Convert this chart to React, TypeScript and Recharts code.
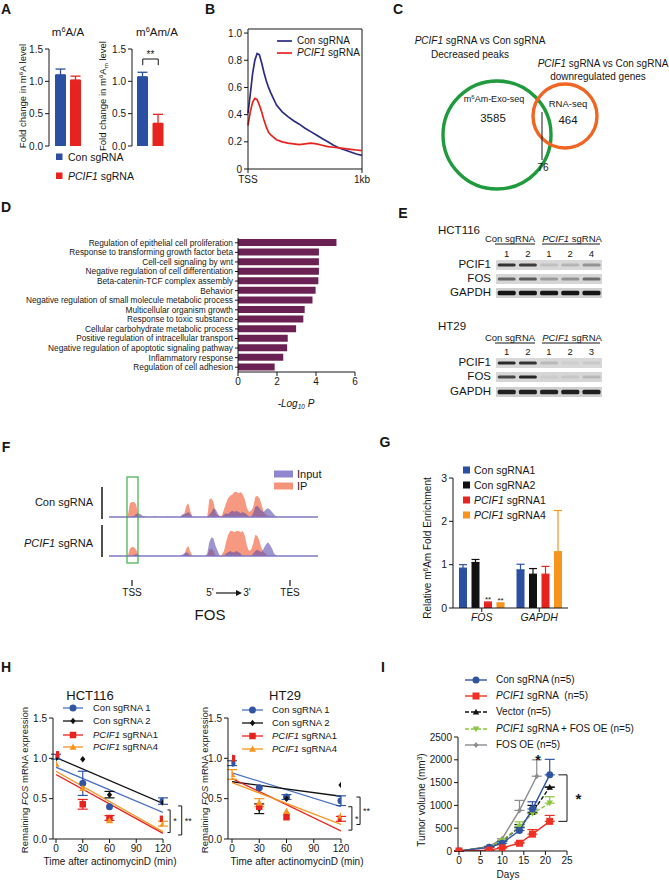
import React from 'react';
import {
  BarChart, Bar, XAxis, YAxis, ErrorBar, Cell, ReferenceLine, LineChart, Line,
  AreaChart, Area, ScatterChart, Scatter, ComposedChart, ReferenceArea, ReferenceDot, LabelList,
} from 'recharts';

const FONT = 'Arial, "Liberation Sans", Helvetica, sans-serif';
const INK = '#161616';
const BLUE = '#2b4fa2';
const RED = '#e8231f';
const ORANGE = '#f7941d';
const NAVY = '#2b2b86';
const PURPLE = '#6b2153';

/* ---------------- Panel A ---------------- */
const A_GROUPS = ['Con sgRNA', 'PCIF1 sgRNA'];
const A_COLORS = [BLUE, RED];
const A_M6A = [1.1, 1.02];
const A_M6A_ERR = [0.09, 0.06];
const A_M6AM = [1.07, 0.35];
const A_M6AM_ERR = [0.07, 0.14];
const A_TICKS = [0, 0.5, 1, 1.5];

/* ---------------- Panel B ---------------- */
const B_POS = [0, 0.02, 0.04, 0.06, 0.08, 0.10, 0.12, 0.14, 0.16, 0.18, 0.20, 0.25, 0.30, 0.35, 0.40, 0.45, 0.50, 0.55, 0.60, 0.65, 0.70, 0.75, 0.80, 0.85, 0.90, 0.95, 1.00];
const B_CON = [0.41, 0.55, 0.70, 0.80, 0.85, 0.84, 0.78, 0.71, 0.65, 0.60, 0.56, 0.47, 0.42, 0.385, 0.355, 0.33, 0.30, 0.275, 0.25, 0.225, 0.20, 0.175, 0.155, 0.14, 0.125, 0.11, 0.10];
const B_KD = [0.32, 0.42, 0.49, 0.52, 0.51, 0.47, 0.42, 0.36, 0.31, 0.27, 0.25, 0.215, 0.20, 0.19, 0.185, 0.18, 0.185, 0.19, 0.185, 0.175, 0.165, 0.16, 0.155, 0.15, 0.145, 0.14, 0.135];
const B_XTICKS = [0, 1];
const B_XLABELS = ['TSS', '1kb'];
const B_YTICKS = [0, 0.2, 0.4, 0.6, 0.8, 1.0];

/* ---------------- Panel C ---------------- */
const C_SETS = ['m6Am-Exo-seq', 'RNA-seq'];
const C_ONLY = [3585, 464];
const C_OVERLAP = 76;
const C_LAYOUT = [
  { cx: 107, cy: 135, r: 54, color: '#1f9a3c' },
  { cx: 175, cy: 116, r: 32, color: '#f06522' },
];

/* ---------------- Panel D ---------------- */
const D_TERMS = [
  'Regulation of epithelial cell proliferation',
  'Response to transforming growth factor beta',
  'Cell-cell signaling by wnt',
  'Negative regulation of cell differentiation',
  'Beta-catenin-TCF complex assembly',
  'Behavior',
  'Negative regulation of small molecule metabolic process',
  'Multicellular organism growth',
  'Response to toxic substance',
  'Cellular carbohydrate metabolic process',
  'Positive regulation of intracellular transport',
  'Negative regulation of apoptotic signaling pathway',
  'Inflammatory response',
  'Regulation of cell adhesion',
];
const D_VALUES = [5.05, 4.15, 4.15, 4.15, 4.12, 3.98, 3.82, 3.42, 3.35, 2.98, 2.55, 2.52, 2.32, 1.88];
const D_TICKS = [0, 2, 4, 6];

/* ---------------- Panel E ---------------- */
const E_ROWS = ['PCIF1', 'FOS', 'GAPDH'];
const E_HCT_LANES = ['1', '2', '1', '2', '4'];
const E_HT_LANES = ['1', '2', '1', '2', '3'];
const E_HCT_PCIF1 = [0.85, 0.8, 0.12, 0.18, 0.35];
const E_HCT_FOS = [0.6, 0.65, 0.3, 0.35, 0.55];
const E_HCT_GAPDH = [1, 1, 1, 1, 1];
const E_HT_PCIF1 = [0.9, 0.85, 0.15, 0.05, 0.08];
const E_HT_FOS = [0.75, 0.92, 0.05, 0.08, 0.15];
const E_HT_GAPDH = [0.95, 0.95, 0.95, 0.95, 0.95];

/* ---------------- Panel F ---------------- */
const F_BINS = Array.from({ length: 101 }, (_, i) => i);
const F_CON_IP = [[9, 0.05], [10, 0.55], [11, 0.6], [12, 0.6], [13, 0.5], [14, 0.05], [15, 0.04], [35, 0.05], [36, 0.12], [37, 0.45], [38, 0.55], [39, 0.2], [48, 0.7], [49, 0.75], [50, 0.6], [51, 0.15], [52, 0.05], [53, 0.05], [54, 0.05], [55, 0.3], [56, 0.55], [57, 0.75], [58, 0.85], [59, 0.9], [60, 1.0], [61, 1.0], [62, 0.95], [63, 1.0], [64, 0.9], [65, 0.7], [66, 0.35], [67, 0.2], [68, 0.25], [69, 0.4], [70, 0.8], [71, 0.85], [72, 0.75], [73, 0.5], [74, 0.2], [75, 0.1], [76, 0.05], [77, 0.02]];
const F_CON_IN = [[12, 0.05], [13, 0.12], [14, 0.15], [15, 0.12], [16, 0.05], [17, 0.03], [22, 0.03], [28, 0.02], [35, 0.1], [36, 0.12], [37, 0.15], [38, 0.2], [39, 0.1], [48, 0.1], [49, 0.2], [50, 0.35], [51, 0.3], [52, 0.15], [55, 0.1], [56, 0.15], [57, 0.12], [58, 0.2], [59, 0.25], [60, 0.2], [61, 0.25], [62, 0.2], [63, 0.15], [64, 0.2], [65, 0.15], [66, 0.1], [69, 0.15], [70, 0.4], [71, 0.45], [72, 0.35], [73, 0.25], [74, 0.2], [75, 0.3], [76, 0.35], [77, 0.3], [78, 0.2], [79, 0.1], [80, 0.02]];
const F_KD_IP = [[10, 0.3], [11, 0.36], [12, 0.35], [13, 0.25], [14, 0.05], [36, 0.05], [37, 0.3], [38, 0.4], [39, 0.15], [48, 0.25], [49, 0.3], [50, 0.2], [54, 0.05], [55, 0.2], [56, 0.55], [57, 0.85], [58, 1.0], [59, 1.0], [60, 0.95], [61, 1.0], [62, 1.0], [63, 0.95], [64, 1.0], [65, 0.8], [66, 0.4], [67, 0.2], [68, 0.25], [69, 0.5], [70, 0.85], [71, 0.8], [72, 0.6], [73, 0.3], [74, 0.15], [75, 0.1]];
const F_KD_IN = [[12, 0.05], [13, 0.08], [14, 0.05], [35, 0.05], [36, 0.1], [37, 0.15], [38, 0.1], [47, 0.1], [48, 0.55], [49, 0.75], [50, 0.7], [51, 0.4], [52, 0.2], [56, 0.1], [57, 0.15], [58, 0.2], [59, 0.15], [60, 0.15], [61, 0.2], [62, 0.15], [63, 0.1], [69, 0.1], [70, 0.2], [71, 0.25], [72, 0.2], [73, 0.15], [74, 0.3], [75, 0.45], [76, 0.55], [77, 0.45], [78, 0.3], [79, 0.1], [80, 0.02]];
const F_EXONS = [[10, 13, 'utr'], [13, 16.7, 'cds'], [33.5, 39.2, 'cds'], [49.3, 51.7, 'cds'], [54, 68.4, 'cds'], [68.4, 86.6, 'utr']];
const F_INTRON = [13, 86];
const F_INTRON_TICKS = [18.7, 24.4, 29.7, 42, 46];

/* ---------------- Panel G ---------------- */
const G_TARGETS = ['FOS', 'GAPDH'];
const G_CON1 = [0.92, 0.88];
const G_CON1_ERR = [0.08, 0.13];
const G_CON2 = [1.05, 0.78];
const G_CON2_ERR = [0.07, 0.13];
const G_KD1 = [0.12, 0.78];
const G_KD1_ERR = [0.02, 0.18];
const G_KD4 = [0.1, 1.3];
const G_KD4_ERR = [0.02, 0.95];
const G_KD1_SIG = ['**', ''];
const G_KD4_SIG = ['**', ''];
const G_TICKS = [0, 1, 2, 3];

/* ---------------- Panel H ---------------- */
const H_TIMES = [0, 30, 60, 120];
const H_TIME_TICKS = [0, 30, 60, 90, 120];
const H_Y_TICKS = [0, 0.5, 1, 1.5];
const H_FIT_T = [0, 120];
const HCT_CON1 = [1.02, 0.69, 0.40, 0.47];
const HCT_CON1_ERR = [0.03, 0.15, 0, 0.04];
const HCT_CON2 = [1.0, 0.99, 0.55, 0.45];
const HCT_CON2_ERR = [0, 0, 0.04, 0];
const HCT_KD1 = [1.05, 0.43, 0.26, 0.25];
const HCT_KD1_ERR = [0, 0.06, 0.03, 0];
const HCT_KD4 = [0.93, 0.63, 0.23, 0.19];
const HCT_KD4_ERR = [0, 0, 0, 0.03];
const HCT_FIT_CON1 = [0.89, 0.33];
const HCT_FIT_CON2 = [1.01, 0.44];
const HCT_FIT_KD1 = [0.80, 0.07];
const HCT_FIT_KD4 = [0.84, 0.09];
const HT_CON1 = [0.94, 0.635, 0.52, 0.475];
const HT_CON1_ERR = [0.03, 0, 0.03, 0.06];
const HT_CON2 = [1.01, 0.375, 0.5, 0.67];
const HT_CON2_ERR = [0, 0.06, 0, 0];
const HT_KD1 = [1.0, 0.4, 0.27, 0.25];
const HT_KD1_ERR = [0, 0, 0, 0.03];
const HT_KD4 = [0.8, 0.45, 0.345, 0.29];
const HT_KD4_ERR = [0.06, 0.05, 0, 0];
const HT_FIT_CON1 = [0.82, 0.40];
const HT_FIT_CON2 = [0.71, 0.53];
const HT_FIT_KD1 = [0.75, 0.10];
const HT_FIT_KD4 = [0.70, 0.18];
const H_NAMES = ['Con sgRNA 1', 'Con sgRNA 2', 'PCIF1 sgRNA1', 'PCIF1 sgRNA4'];

/* ---------------- Panel I ---------------- */
const I_DAYS_A = [0, 7, 10, 14, 17, 21];
const I_DAYS_B = [0, 7, 10, 14, 18];
const I_CON = [0, 80, 170, 450, 920, 1670];
const I_CON_ERR = [0, 20, 40, 60, 160, 340];
const I_KD = [0, 20, 70, 170, 370, 650];
const I_KD_ERR = [0, 0, 0, 20, 100, 130];
const I_VEC = [0, 90, 220, 520, 850, 1400];
const I_VEC_ERR = [0, 0, 0, 60, 150, 0];
const I_KDFOS = [0, 90, 230, 540, 820, 1050];
const I_KDFOS_ERR = [0, 0, 0, 100, 0, 140];
const I_FOS = [0, 100, 270, 890, 1640];
const I_FOS_ERR = [0, 0, 0, 220, 360];
const I_XTICKS = [0, 5, 10, 15, 20, 25];
const I_YTICKS = [0, 500, 1000, 1500, 2000, 2500];

/* ---------------- helpers ---------------- */
const tk = (size = 10) => ({ fontSize: size, fill: INK });
const AX = { stroke: INK, strokeWidth: 1 };

function Txt({ x, y, size = 10, anchor = 'middle', bold = false, italic = false, rotate = false, color = INK, children }) {
  const tx = rotate ? '-50%' : anchor === 'middle' ? '-50%' : anchor === 'end' ? '-100%' : '0%';
  return (
    <div style={{
      position: 'absolute', left: x, top: y, fontSize: size, lineHeight: 1, whiteSpace: 'nowrap',
      fontWeight: bold ? 700 : 400, fontStyle: italic ? 'italic' : 'normal', color,
      transform: `translate(${tx},-50%)${rotate ? ' rotate(-90deg)' : ''}`,
    }}>{children}</div>
  );
}
const Sup = ({ children }) => <span style={{ fontSize: '0.65em', position: 'relative', top: '-0.5em' }}>{children}</span>;
const Sub = ({ children }) => <span style={{ fontSize: '0.65em', position: 'relative', top: '0.3em' }}>{children}</span>;
const I = ({ children }) => <i>{children}</i>;

function Mark({ kind, x, y, s, color }) {
  const h = s / 2;
  if (kind === 'circle') return <circle cx={x} cy={y} r={h} fill={color} />;
  if (kind === 'square') return <rect x={x - h} y={y - h} width={s} height={s} fill={color} />;
  if (kind === 'tri') return <polygon points={`${x},${y - h} ${x + h},${y + h * 0.8} ${x - h},${y + h * 0.8}`} fill={color} />;
  if (kind === 'triDown') return <polygon points={`${x - h},${y - h * 0.8} ${x + h},${y - h * 0.8} ${x},${y + h}`} fill={color} />;
  return <polygon points={`${x},${y - h} ${x + h * 0.8},${y} ${x},${y + h} ${x - h * 0.8},${y}`} fill={color} />;
}

function bracketLines(key, xArm, xBar, yTop, yBot, label) {
  const st = { stroke: INK, strokeWidth: 1, ifOverflow: 'visible' };
  return [
    <ReferenceLine key={key + 'a'} segment={[{ x: xArm, y: yTop }, { x: xBar, y: yTop }]} {...st} />,
    <ReferenceLine key={key + 'b'} segment={[{ x: xArm, y: yBot }, { x: xBar, y: yBot }]} {...st} />,
    <ReferenceLine key={key + 'c'} segment={[{ x: xBar, y: yTop }, { x: xBar, y: yBot }]} {...st}
      label={{ value: label, position: 'right', fontSize: 9, fill: INK, offset: 3 }} />,
  ];
}

/* ---------------- Panels ---------------- */
function RatioBars({ left, yW, width, right, pad, vals, errs, sig }) {
  const data = A_GROUPS.map((g, i) => ({
    group: g, v: vals[i],
    e0: i === 0 ? [0, errs[i]] : undefined,
    e1: i === 1 ? [0, errs[i]] : undefined,
  }));
  return (
    <div style={{ position: 'absolute', left, top: 0 }}>
      <BarChart width={width} height={170} data={data} margin={{ top: 49, right, bottom: 24, left: 0 }}>
        <XAxis dataKey="group" tick={false} tickLine={false} height={0} axisLine={AX} padding={{ left: pad, right: pad }} />
        <YAxis domain={[0, 1.5]} ticks={A_TICKS} tickFormatter={(v) => v.toFixed(1)} width={yW} tickSize={4} tick={tk(10)} axisLine={AX} tickLine={AX} />
        <Bar dataKey="v" barSize={11} isAnimationActive={false}>
          {data.map((d, i) => <Cell key={i} fill={A_COLORS[i]} />)}
          <ErrorBar dataKey="e0" width={5} stroke={A_COLORS[0]} strokeWidth={1.3} direction="y" />
          <ErrorBar dataKey="e1" width={5} stroke={A_COLORS[1]} strokeWidth={1.3} direction="y" />
        </Bar>
        {sig ? [
          <ReferenceLine key="s1" segment={[{ x: A_GROUPS[0], y: 1.345 }, { x: A_GROUPS[1], y: 1.345 }]} stroke={INK} ifOverflow="visible"
            label={{ value: sig, position: 'top', fontSize: 10, fill: INK, offset: 1 }} />,
          <ReferenceLine key="s2" segment={[{ x: A_GROUPS[0], y: 1.345 }, { x: A_GROUPS[0], y: 1.25 }]} stroke={INK} ifOverflow="visible" />,
          <ReferenceLine key="s3" segment={[{ x: A_GROUPS[1], y: 1.345 }, { x: A_GROUPS[1], y: 1.25 }]} stroke={INK} ifOverflow="visible" />,
        ] : null}
      </BarChart>
    </div>
  );
}

function PanelA() {
  return (
    <>
      <RatioBars left={0} yW={49} width={100} right={13} pad={4} vals={A_M6A} errs={A_M6A_ERR} />
      <RatioBars left={90} yW={42} width={100} right={21} pad={3} vals={A_M6AM} errs={A_M6AM_ERR} sig="**" />
      <Txt x={68} y={33} size={11.5}>m<Sup>6</Sup>A/A</Txt>
      <Txt x={157} y={33} size={11.5}>m<Sup>6</Sup>Am/A</Txt>
      <Txt x={23} y={96} size={9.5} rotate>Fold change in m<Sup>6</Sup>A level</Txt>
      <Txt x={103} y={96} size={9.5} rotate>Fold change in m<Sup>6</Sup>A<Sub>m</Sub> level</Txt>
      <Txt x={68} y={157} size={10.5} anchor="start">{A_GROUPS[0]}</Txt>
      <Txt x={68} y={176} size={10.5} anchor="start"><I>PCIF1</I> sgRNA</Txt>
    </>
  );
}

function PanelB() {
  const data = B_POS.map((p, i) => ({ p, con: B_CON[i], kd: B_KD[i] }));
  return (
    <>
      <div style={{ position: 'absolute', left: 190, top: 0 }}>
        <LineChart width={180} height={195} data={data} margin={{ top: 29, right: 8, bottom: 6, left: 0 }}>
          <XAxis type="number" dataKey="p" domain={[0, 1]} ticks={B_XTICKS} tickFormatter={(v) => B_XLABELS[B_XTICKS.indexOf(v)]}
            height={20} tickSize={4} tick={{ ...tk(10), dy: 1 }} axisLine={AX} tickLine={AX} />
          <YAxis type="number" domain={[0, 1.03]} ticks={B_YTICKS} allowDataOverflow tickFormatter={(v) => (v === 0 ? '0' : v.toFixed(1))}
            width={58} tickSize={4} tick={tk(10)} axisLine={AX} tickLine={AX} />
          <ReferenceLine y={1.03} stroke={INK} />
          <ReferenceLine x={1} stroke={INK} />
          <Line dataKey="con" stroke={NAVY} strokeWidth={1.7} dot={false} isAnimationActive={false} />
          <Line dataKey="kd" stroke={RED} strokeWidth={1.7} dot={false} isAnimationActive={false} />
        </LineChart>
      </div>
      <Txt x={297} y={41} size={10} anchor="start">Con sgRNA</Txt>
      <Txt x={297} y={53} size={10} anchor="start"><I>PCIF1</I> sgRNA</Txt>
    </>
  );
}

function PanelC() {
  const data = C_LAYOUT.map((c, i) => ({ ...c, set: C_SETS[i] }));
  return (
    <>
      <div style={{ position: 'absolute', left: 390, top: 0 }}>
        <ScatterChart width={279} height={200} margin={{ top: 0, right: 0, bottom: 0, left: 0 }}>
          <XAxis type="number" dataKey="cx" domain={[0, 279]} hide />
          <YAxis type="number" dataKey="cy" domain={[0, 200]} reversed hide />
          <Scatter data={data} isAnimationActive={false}
            shape={(p) => <circle cx={p.cx} cy={p.cy} r={p.payload.r} fill="none" stroke={p.payload.color} strokeWidth={3.4} />} />
        </ScatterChart>
      </div>
      <Txt x={480} y={41} size={10}><I>PCIF1</I> sgRNA vs Con sgRNA</Txt>
      <Txt x={470} y={55} size={10}>Decreased peaks</Txt>
      <Txt x={603} y={64} size={10}><I>PCIF1</I> sgRNA vs Con sgRNA</Txt>
      <Txt x={598} y={77} size={10}>downregulated genes</Txt>
      <Txt x={494} y={99} size={9}>m<Sup>6</Sup>Am-Exo-seq</Txt>
      <Txt x={493} y={119} size={11.5}>{C_ONLY[0]}</Txt>
      <Txt x={568} y={104} size={9.5}>{C_SETS[1]}</Txt>
      <Txt x={568} y={121} size={11.5}>{C_ONLY[1]}</Txt>
      <Txt x={543} y={168} size={10}>{C_OVERLAP}</Txt>
    </>
  );
}

const DTick = ({ x, y, payload }) => (
  <text x={x} y={y} dy="0.35em" textAnchor="end" fontSize={8.3} fill={INK}>{payload.value}</text>
);

function PanelD() {
  const data = D_TERMS.map((t, i) => ({ term: t, v: D_VALUES[i] }));
  return (
    <>
      <div style={{ position: 'absolute', left: 0, top: 200 }}>
        <BarChart layout="vertical" width={370} height={210} data={data} margin={{ top: 38, right: 15, bottom: 16, left: 0 }}>
          <XAxis type="number" domain={[0, 6]} ticks={D_TICKS} height={22} tickSize={4} tick={tk(10)} axisLine={AX} tickLine={AX} />
          <YAxis type="category" dataKey="term" width={238} interval={0} tickSize={3} tick={DTick} axisLine={AX} tickLine={AX} />
          <Bar dataKey="v" fill={PURPLE} barSize={7} isAnimationActive={false} />
        </BarChart>
      </div>
      <Txt x={296} y={404} size={10} italic>-Log<Sub>10</Sub> P</Txt>
    </>
  );
}

function BlotStrip({ left, top, lanes, values, bandH, showLanes, bg }) {
  const H = 10;
  const axisH = showLanes ? 16 : 0;
  const data = lanes.map((l, i) => ({ lane: String(i), v: values[i] }));
  const LaneTick = ({ x, payload }) => (
    <text x={x} y={axisH - 3} textAnchor="middle" fontSize={9.5} fill={INK}>{lanes[Number(payload.value)]}</text>
  );
  return (
    <div style={{ position: 'absolute', left, top: top - axisH }}>
      <div style={{ position: 'absolute', left: 0, top: axisH, width: 106, height: H, background: bg }} />
      <BarChart width={106} height={H + axisH} data={data} margin={{ top: 0, right: 0, bottom: 0, left: 0 }} barCategoryGap="8%">
        <XAxis dataKey="lane" orientation="top" height={axisH} hide={!showLanes} axisLine={false} tickLine={false}
          tick={LaneTick} interval={0} />
        <YAxis hide domain={[0, 1]} />
        <Bar dataKey="v" isAnimationActive={false}
          shape={(p) => <rect x={p.x} y={axisH + H / 2 - bandH / 2} width={p.width} height={bandH} rx={1.5} fill="#161616" fillOpacity={p.payload.v} />} />
      </BarChart>
    </div>
  );
}

function PanelE() {
  return (
    <>
      <Txt x={438} y={231} size={11.5} anchor="start">HCT116</Txt>
      <Txt x={510} y={239} size={9.5}>Con sgRNA</Txt>
      <Txt x={572} y={239} size={9.5}><I>PCIF1</I> sgRNA</Txt>
      <BlotStrip left={496} top={260} lanes={E_HCT_LANES} values={E_HCT_PCIF1} bandH={3} showLanes bg="#d8d8d8" />
      <BlotStrip left={496} top={274} lanes={E_HCT_LANES} values={E_HCT_FOS} bandH={3} bg="#d6d6d6" />
      <BlotStrip left={496} top={288} lanes={E_HCT_LANES} values={E_HCT_GAPDH} bandH={4.5} bg="#d0d0d0" />
      <Txt x={491} y={265} size={11.5} anchor="end">{E_ROWS[0]}</Txt>
      <Txt x={491} y={279} size={11.5} anchor="end">{E_ROWS[1]}</Txt>
      <Txt x={491} y={293} size={11.5} anchor="end">{E_ROWS[2]}</Txt>

      <Txt x={438} y={327} size={11.5} anchor="start">HT29</Txt>
      <Txt x={510} y={338} size={9.5}>Con sgRNA</Txt>
      <Txt x={572} y={338} size={9.5}><I>PCIF1</I> sgRNA</Txt>
      <BlotStrip left={496} top={358} lanes={E_HT_LANES} values={E_HT_PCIF1} bandH={3} showLanes bg="#d8d8d8" />
      <BlotStrip left={496} top={372} lanes={E_HT_LANES} values={E_HT_FOS} bandH={3} bg="#d6d6d6" />
      <BlotStrip left={496} top={387} lanes={E_HT_LANES} values={E_HT_GAPDH} bandH={4.5} bg="#d0d0d0" />
      <Txt x={491} y={363} size={11.5} anchor="end">{E_ROWS[0]}</Txt>
      <Txt x={491} y={377} size={11.5} anchor="end">{E_ROWS[1]}</Txt>
      <Txt x={491} y={392} size={11.5} anchor="end">{E_ROWS[2]}</Txt>
    </>
  );
}

function Track({ top, ip, inp }) {
  const mIp = new Map(ip);
  const mIn = new Map(inp);
  const data = F_BINS.map((b) => ({ pos: b, ip: mIp.get(b) ?? 0, inp: mIn.get(b) ?? 0 }));
  return (
    <div style={{ position: 'absolute', left: 109, top }}>
      <AreaChart width={209} height={29} data={data} margin={{ top: 3, right: 0, bottom: 1, left: 0 }}>
        <XAxis type="number" dataKey="pos" domain={[0, 100]} hide />
        <YAxis type="number" domain={[0, 1]} hide />
        <Area type="linear" dataKey="ip" stroke="none" fill="#f4876a" fillOpacity={0.85} isAnimationActive={false} />
        <Area type="linear" dataKey="inp" stroke="none" fill="#5b4fae" fillOpacity={0.6} isAnimationActive={false} />
        <ReferenceLine y={0} stroke="#8079c5" strokeWidth={1.3} />
      </AreaChart>
    </div>
  );
}

function PanelF() {
  return (
    <>
      <Track top={489} ip={F_CON_IP} inp={F_CON_IN} />
      <Track top={528} ip={F_KD_IP} inp={F_KD_IN} />
      <div style={{ position: 'absolute', left: 109, top: 560 }}>
        <ComposedChart width={209} height={24} data={[{ pos: 0 }, { pos: 100 }]} margin={{ top: 0, right: 0, bottom: 0, left: 0 }}>
          <XAxis type="number" dataKey="pos" domain={[0, 100]} hide />
          <YAxis type="number" domain={[-1, 1]} hide />
          <ReferenceLine segment={[{ x: F_INTRON[0], y: 0 }, { x: F_INTRON[1], y: 0 }]} stroke={NAVY} strokeWidth={1.3} />
          {F_INTRON_TICKS.map((p) => (
            <ReferenceLine key={'t' + p} segment={[{ x: p, y: -0.3 }, { x: p, y: 0.3 }]} stroke={NAVY} strokeWidth={1.5} />
          ))}
          {F_EXONS.map(([a, b, kind], i) => (
            <ReferenceArea key={'e' + i} x1={a} x2={b} y1={kind === 'cds' ? -0.46 : -0.27} y2={kind === 'cds' ? 0.46 : 0.27}
              fill={NAVY} fillOpacity={1} stroke="none" ifOverflow="visible" />
          ))}
        </ComposedChart>
      </div>
      <Txt x={297} y={474} size={11} anchor="start">Input</Txt>
      <Txt x={297} y={486} size={11} anchor="start">IP</Txt>
      <Txt x={93} y={502} size={11} anchor="end">Con sgRNA</Txt>
      <Txt x={93} y={543} size={11} anchor="end"><I>PCIF1</I> sgRNA</Txt>
      <Txt x={132} y={593} size={10}>TSS</Txt>
      <Txt x={290} y={593} size={10}>TES</Txt>
      <Txt x={210} y={593} size={10}>5'</Txt>
      <Txt x={247} y={593} size={10}>3'</Txt>
      <Txt x={210} y={614} size={15}>FOS</Txt>
    </>
  );
}

function PanelG() {
  const data = G_TARGETS.map((t, i) => ({
    t, c1: G_CON1[i], c1e: [0, G_CON1_ERR[i]], c2: G_CON2[i], c2e: [0, G_CON2_ERR[i]],
    k1: G_KD1[i], k1e: [0, G_KD1_ERR[i]], k4: G_KD4[i], k4e: [0, G_KD4_ERR[i]], k1s: G_KD1_SIG[i], k4s: G_KD4_SIG[i],
  }));
  const series = [['c1', BLUE], ['c2', '#111111'], ['k1', RED], ['k4', ORANGE]];
  return (
    <>
      <div style={{ position: 'absolute', left: 400, top: 440 }}>
        <BarChart width={269} height={200} data={data} margin={{ top: 38, right: 101, bottom: 8, left: 0 }} barGap={4.5} barCategoryGap="10%">
          <XAxis dataKey="t" height={24} tickSize={4} tick={{ ...tk(10.5), fontStyle: 'italic' }} axisLine={AX} tickLine={AX} />
          <YAxis domain={[0, 3]} ticks={G_TICKS} width={53} tickSize={4} tick={tk(10.5)} axisLine={AX} tickLine={AX} />
          {series.map(([k, c]) => (
            <Bar key={k} dataKey={k} fill={c} barSize={8} isAnimationActive={false}>
              <ErrorBar dataKey={k + 'e'} width={4} stroke={c} strokeWidth={1.2} direction="y" />
              {k === 'k1' || k === 'k4' ? <LabelList dataKey={k + 's'} position="top" offset={1} style={{ fontSize: 8, fill: INK }} /> : null}
            </Bar>
          ))}
        </BarChart>
      </div>
      <Txt x={474} y={470} size={10.5} anchor="start">Con sgRNA1</Txt>
      <Txt x={474} y={485} size={10.5} anchor="start">Con sgRNA2</Txt>
      <Txt x={474} y={500} size={10.5} anchor="start"><I>PCIF1</I> sgRNA1</Txt>
      <Txt x={474} y={515} size={10.5} anchor="start"><I>PCIF1</I> sgRNA4</Txt>
      <Txt x={428} y={548} size={10} rotate>Relative m<Sup>6</Sup>Am Fold Enrichment</Txt>
    </>
  );
}

const H_STYLE = [
  { color: '#2f55a4', fit: '#4a72c4', kind: 'circle', s: 7 },
  { color: '#111111', fit: '#111111', kind: 'diamond', s: 6.5 },
  { color: RED, fit: RED, kind: 'square', s: 6.5 },
  { color: ORANGE, fit: ORANGE, kind: 'tri', s: 7 },
];

function DecayChart({ left, width, right, pad, vals, errs, fits, brackets }) {
  return (
    <div style={{ position: 'absolute', left, top: 700 }}>
      <ComposedChart width={width} height={170} margin={{ top: 18, right, bottom: 7, left: 0 }}>
        <XAxis type="number" dataKey="t" domain={[0, 120]} ticks={H_TIME_TICKS} allowDataOverflow padding={{ left: pad, right: 0 }}
          height={24} tickSize={4} tick={tk(10)} axisLine={AX} tickLine={AX} />
        <YAxis type="number" dataKey="v" domain={[0, 1.5]} ticks={H_Y_TICKS} allowDataOverflow tickFormatter={(v) => v.toFixed(1)}
          width={53} tickSize={4} tick={tk(10)} axisLine={AX} tickLine={AX} />
        {fits.map((f, si) => (
          <Line key={'f' + si} data={H_FIT_T.map((t, i) => ({ t, v: f[i] }))} dataKey="v" stroke={H_STYLE[si].fit}
            strokeWidth={1.3} dot={false} isAnimationActive={false} />
        ))}
        {vals.map((vs, si) => (
          <Scatter key={'s' + si} data={H_TIMES.map((t, i) => ({ t, v: vs[i], e: errs[si][i] }))} isAnimationActive={false}
            shape={(p) => <Mark kind={H_STYLE[si].kind} x={p.cx} y={p.cy} s={H_STYLE[si].s} color={H_STYLE[si].color} />}>
            <ErrorBar dataKey="e" direction="y" width={5} stroke={H_STYLE[si].color} strokeWidth={1.2} />
          </Scatter>
        ))}
        {brackets}
      </ComposedChart>
    </div>
  );
}

function HLegend({ textX, ys }) {
  return (
    <>
      {H_NAMES.map((n, i) => (
        <Txt key={n} x={textX} y={ys[i]} size={9.5} anchor="start">
          {i >= 2 ? <><I>PCIF1</I> {n.replace('PCIF1 ', '')}</> : n}
        </Txt>
      ))}
    </>
  );
}

function PanelH() {
  return (
    <>
      <DecayChart left={0} width={200} right={37} pad={3}
        vals={[HCT_CON1, HCT_CON2, HCT_KD1, HCT_KD4]} errs={[HCT_CON1_ERR, HCT_CON2_ERR, HCT_KD1_ERR, HCT_KD4_ERR]}
        fits={[HCT_FIT_CON1, HCT_FIT_CON2, HCT_FIT_KD1, HCT_FIT_KD4]}
        brackets={[...bracketLines('hi', 125, 128, 0.36, 0.08, '*'), ...bracketLines('ho', 137, 141, 0.41, 0.05, '**')]} />
      <DecayChart left={175} width={200} right={34} pad={4}
        vals={[HT_CON1, HT_CON2, HT_KD1, HT_KD4]} errs={[HT_CON1_ERR, HT_CON2_ERR, HT_KD1_ERR, HT_KD4_ERR]}
        fits={[HT_FIT_CON1, HT_FIT_CON2, HT_FIT_KD1, HT_FIT_KD4]}
        brackets={[...bracketLines('ti', 128, 132, 0.40, 0.11, '*'), ...bracketLines('to', 137, 141, 0.52, 0.18, '**')]} />
      <Txt x={90} y={695} size={13}>HCT116</Txt>
      <Txt x={285} y={695} size={13}>HT29</Txt>
      <HLegend textX={93} ys={[708, 721, 735, 747]} />
      <HLegend textX={272} ys={[710, 723, 736, 749]} />
      <Txt x={25} y={780} size={9.5} rotate>Remaining <I>FOS</I> mRNA expression</Txt>
      <Txt x={205} y={780} size={9.5} rotate>Remaining <I>FOS</I> mRNA expression</Txt>
      <Txt x={110} y={862} size={10}>Time after actinomycinD (min)</Txt>
      <Txt x={297} y={862} size={10}>Time after actinomycinD (min)</Txt>
    </>
  );
}

const I_STYLE = [
  { color: '#2e54a2', kind: 'circle', s: 7, dash: undefined },
  { color: '#ee3124', kind: 'square', s: 7, dash: undefined },
  { color: '#111111', kind: 'tri', s: 6.5, dash: '4 2' },
  { color: '#8cc63f', kind: 'triDown', s: 6.5, dash: '4 2' },
  { color: '#8c8c8c', kind: 'diamond', s: 6, dash: undefined },
];

function PanelI() {
  const sets = [
    [I_DAYS_A, I_CON, I_CON_ERR], [I_DAYS_A, I_KD, I_KD_ERR], [I_DAYS_A, I_VEC, I_VEC_ERR],
    [I_DAYS_A, I_KDFOS, I_KDFOS_ERR], [I_DAYS_B, I_FOS, I_FOS_ERR],
  ];
  const order = [4, 2, 3, 0, 1];
  return (
    <>
      <div style={{ position: 'absolute', left: 400, top: 720 }}>
        <ComposedChart width={269} height={162} margin={{ top: 17, right: 102, bottom: 15, left: 0 }}>
          <XAxis type="number" dataKey="d" domain={[0, 25]} ticks={I_XTICKS} padding={{ left: 1, right: 0 }}
            height={16} tickSize={4} tick={tk(10)} axisLine={AX} tickLine={AX} />
          <YAxis type="number" dataKey="v" domain={[0, 2500]} ticks={I_YTICKS} allowDataOverflow width={58}
            tickSize={4} tick={tk(10)} axisLine={AX} tickLine={AX} />
          {order.map((si) => {
            const [days, vs, es] = sets[si];
            const st = I_STYLE[si];
            return (
              <Line key={'i' + si} data={days.map((d, i) => ({ d, v: vs[i], e: [0, es[i]] }))} dataKey="v" stroke={st.color}
                strokeWidth={1.4} strokeDasharray={st.dash} isAnimationActive={false}
                dot={(p) => <Mark key={'m' + si + '-' + p.index} kind={st.kind} x={p.cx} y={p.cy} s={st.s} color={st.color} />}>
                <ErrorBar dataKey="e" direction="y" width={5} stroke={st.color} strokeWidth={1.2} />
              </Line>
            );
          })}
          {bracketLines('ib', 23, 25, 1670, 650, '')}
          <ReferenceDot x={25.6} y={1150} r={1} fill="none" stroke="none" ifOverflow="visible"
            label={{ value: '*', position: 'right', fontSize: 15, fontWeight: 700, fill: INK }} />
          <ReferenceDot x={18.3} y={1990} r={1} fill="none" stroke="none" ifOverflow="visible"
            label={{ value: '*', position: 'center', fontSize: 14, fontWeight: 700, fill: INK }} />
        </ComposedChart>
      </div>
      <Txt x={496} y={680} size={10} anchor="start">Con sgRNA (n=5)</Txt>
      <Txt x={496} y={696} size={10} anchor="start"><I>PCIF1</I> sgRNA&nbsp; (n=5)</Txt>
      <Txt x={496} y={712} size={10} anchor="start">Vector (n=5)</Txt>
      <Txt x={496} y={729} size={10} anchor="start"><I>PCIF1</I> sgRNA + FOS OE (n=5)</Txt>
      <Txt x={496} y={745} size={10} anchor="start">FOS OE (n=5)</Txt>
      <Txt x={422} y={800} size={10} rotate>Tumor volume (mm<Sup>3</Sup>)</Txt>
      <Txt x={508} y={875} size={10}>Days</Txt>
    </>
  );
}

function Overlay() {
  const hLeg = (x1, x2, ys) => H_STYLE.map((st, i) => (
    <g key={'hl' + x1 + i}>
      <line x1={x1} x2={x2} y1={ys[i]} y2={ys[i]} stroke={st.fit} strokeWidth={1.3} />
      <Mark kind={st.kind} x={(x1 + x2) / 2} y={ys[i]} s={st.s} color={st.color} />
    </g>
  ));
  const iYs = [680, 696, 712, 729, 745];
  return (
    <svg width={669} height={882} style={{ position: 'absolute', left: 0, top: 0, pointerEvents: 'none' }}>
      <rect x={56} y={153.5} width={6.5} height={6.5} fill={BLUE} />
      <rect x={56} y={172.5} width={6.5} height={6.5} fill={RED} />
      <line x1={277} x2={292} y1={41} y2={41} stroke={NAVY} strokeWidth={1.7} />
      <line x1={277} x2={292} y1={53} y2={53} stroke={RED} strokeWidth={1.7} />
      <line x1={542} x2={542} y1={112} y2={160} stroke={INK} strokeWidth={1} />
      <line x1={495} x2={535} y1={244} y2={244} stroke={INK} strokeWidth={1.2} />
      <line x1={542} x2={600} y1={244} y2={244} stroke={INK} strokeWidth={1.2} />
      <line x1={495} x2={535} y1={343} y2={343} stroke={INK} strokeWidth={1.2} />
      <line x1={542} x2={600} y1={343} y2={343} stroke={INK} strokeWidth={1.2} />
      <rect x={274} y={470.5} width={19} height={7} fill="#8e87cf" />
      <rect x={274} y={482.5} width={19} height={7} fill="#f4937a" />
      <line x1={102} x2={102} y1={487} y2={519} stroke={INK} strokeWidth={1.5} />
      <line x1={102} x2={102} y1={525} y2={557} stroke={INK} strokeWidth={1.5} />
      <rect x={127} y={477} width={11} height={86} fill="none" stroke="#3dae49" strokeWidth={1.2} />
      <line x1={132} x2={132} y1={580} y2={586} stroke={INK} strokeWidth={1.2} />
      <line x1={290} x2={290} y1={580} y2={586} stroke={INK} strokeWidth={1.2} />
      <line x1={216} x2={237} y1={593} y2={593} stroke={INK} strokeWidth={1.2} />
      <polygon points="236,590 242,593 236,596" fill={INK} />
      <rect x={463} y={466.5} width={7} height={7} fill={BLUE} />
      <rect x={463} y={481.5} width={7} height={7} fill="#111111" />
      <rect x={463} y={496.5} width={7} height={7} fill={RED} />
      <rect x={463} y={511.5} width={7} height={7} fill={ORANGE} />
      {hLeg(63, 83, [708, 721, 735, 747])}
      {hLeg(242, 263, [710, 723, 736, 749])}
      {I_STYLE.map((st, i) => (
        <g key={'il' + i}>
          <line x1={465} x2={487} y1={iYs[i]} y2={iYs[i]} stroke={st.color} strokeWidth={1.4} strokeDasharray={st.dash} />
          <Mark kind={st.kind} x={476} y={iYs[i]} s={st.s} color={st.color} />
        </g>
      ))}
    </svg>
  );
}

const LETTERS = [['A', 6, 9], ['B', 210, 9], ['C', 398, 9], ['D', 6, 207], ['E', 403, 213], ['F', 6, 447], ['G', 385, 442], ['H', 6, 667], ['I', 383, 667]];

export default function App() {
  return (
    <div style={{ position: 'absolute', left: 0, top: 0, width: 669, height: 882, background: '#fff', fontFamily: FONT, color: INK, overflow: 'hidden' }}>
      <PanelA />
      <PanelB />
      <PanelC />
      <PanelD />
      <PanelE />
      <PanelF />
      <PanelG />
      <PanelH />
      <PanelI />
      <Overlay />
      {LETTERS.map(([l, x, y]) => <Txt key={l} x={x} y={y} size={14} bold>{l}</Txt>)}
    </div>
  );
}
